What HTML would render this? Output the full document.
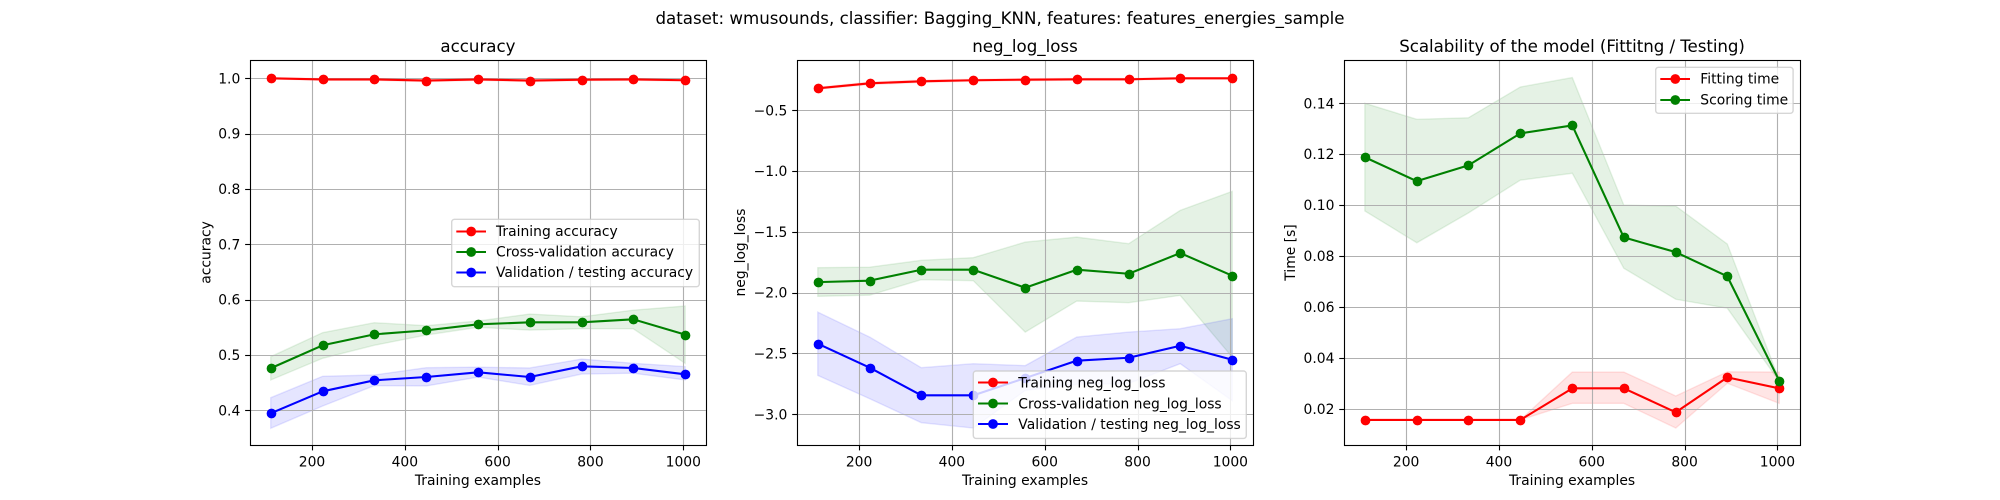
<!DOCTYPE html>
<html lang="en">
<head>
<meta charset="utf-8">
<title>dataset: wmusounds, classifier: Bagging_KNN, features: features_energies_sample</title>
<style>
html,body{margin:0;padding:0;background:#fff;}
body{width:2000px;height:500px;overflow:hidden;}
svg{display:block;font-family:"DejaVu Sans","Liberation Sans",sans-serif;fill:#000;}
.tick{font-size:13.89px;}
.lab{font-size:13.89px;}
.ttl{font-size:16.67px;}
.leg{font-size:13.89px;fill:#000;}
.frame{fill:#fff;fill-opacity:.8;stroke:#ccc;stroke-opacity:.8;stroke-width:1.39;}
</style>
</head>
<body>
<svg xmlns="http://www.w3.org/2000/svg" width="2000" height="500" viewBox="0 0 2000 500">
  <rect x="0" y="0" width="2000" height="500" fill="#fff"/>
  <text class="ttl" x="1000" y="24" text-anchor="middle">dataset: wmusounds, classifier: Bagging_KNN, features: features_energies_sample</text>

  <g id="panel-accuracy">
    <g id="plot-accuracy"></g>
    <text class="ttl" x="477.94" y="52" text-anchor="middle">accuracy</text>
    <text class="lab" x="477.94" y="485" text-anchor="middle">Training examples</text>
    <text class="lab" transform="translate(210.5 252.5) rotate(-90)" text-anchor="middle">accuracy</text>
    <g>
      <rect class="frame" x="451.7" y="219.3" width="247.6" height="67.4" rx="2.8"/>
      <g>
        <line x1="456.3" x2="486" y1="231.5" y2="231.5" stroke="#f00" stroke-width="2.08"/>
        <circle cx="471.2" cy="231.5" r="4.17" fill="#f00" stroke="#f00" stroke-width="1.39"/>
        <text class="leg" x="496" y="236">Training accuracy</text>
      </g>
      <g>
        <line x1="456.3" x2="486" y1="252" y2="252" stroke="#008000" stroke-width="2.08"/>
        <circle cx="471.2" cy="252" r="4.17" fill="#008000" stroke="#008000" stroke-width="1.39"/>
        <text class="leg" x="496" y="256.5">Cross-validation accuracy</text>
      </g>
      <g>
        <line x1="456.3" x2="486" y1="272.5" y2="272.5" stroke="#00f" stroke-width="2.08"/>
        <circle cx="471.2" cy="272.5" r="4.17" fill="#00f" stroke="#00f" stroke-width="1.39"/>
        <text class="leg" x="496" y="277">Validation / testing accuracy</text>
      </g>
    </g>
  </g>

  <g id="panel-logloss">
    <g id="plot-logloss"></g>
    <text class="ttl" x="1025" y="52" text-anchor="middle">neg_log_loss</text>
    <text class="lab" x="1025" y="485" text-anchor="middle">Training examples</text>
    <text class="lab" transform="translate(745 252.5) rotate(-90)" text-anchor="middle">neg_log_loss</text>
    <g>
      <rect class="frame" x="973.3" y="371" width="273" height="67.4" rx="2.8"/>
      <g>
        <line x1="978" x2="1008" y1="382.5" y2="382.5" stroke="#f00" stroke-width="2.08"/>
        <circle cx="993" cy="382.5" r="4.17" fill="#f00" stroke="#f00" stroke-width="1.39"/>
        <text class="leg" x="1018.3" y="387.5">Training neg_log_loss</text>
      </g>
      <g>
        <line x1="978" x2="1008" y1="403.5" y2="403.5" stroke="#008000" stroke-width="2.08"/>
        <circle cx="993" cy="403.5" r="4.17" fill="#008000" stroke="#008000" stroke-width="1.39"/>
        <text class="leg" x="1018.3" y="408.5">Cross-validation neg_log_loss</text>
      </g>
      <g>
        <line x1="978" x2="1008" y1="424" y2="424" stroke="#00f" stroke-width="2.08"/>
        <circle cx="993" cy="424" r="4.17" fill="#00f" stroke="#00f" stroke-width="1.39"/>
        <text class="leg" x="1018.3" y="429">Validation / testing neg_log_loss</text>
      </g>
    </g>
  </g>

  <g id="panel-time">
    <g id="plot-time"></g>
    <text class="ttl" x="1572.06" y="52" text-anchor="middle" textLength="345.7" lengthAdjust="spacing">Scalability of the model (Fittitng / Testing)</text>
    <text class="lab" x="1572.06" y="485" text-anchor="middle">Training examples</text>
    <text class="lab" transform="translate(1295 252.5) rotate(-90)" text-anchor="middle">Time [s]</text>
    <g>
      <rect class="frame" x="1655.7" y="67.3" width="137.4" height="46" rx="2.8"/>
      <g>
        <line x1="1660.3" x2="1690" y1="79" y2="79" stroke="#f00" stroke-width="2.08"/>
        <circle cx="1675.3" cy="79" r="4.17" fill="#f00" stroke="#f00" stroke-width="1.39"/>
        <text class="leg" x="1700.3" y="83.7">Fitting time</text>
      </g>
      <g>
        <line x1="1660.3" x2="1690" y1="100" y2="100" stroke="#008000" stroke-width="2.08"/>
        <circle cx="1675.3" cy="100" r="4.17" fill="#008000" stroke="#008000" stroke-width="1.39"/>
        <text class="leg" x="1700.3" y="104.7">Scoring time</text>
      </g>
    </g>
  </g>
</svg>

<script>
// ---- Shared categories and tick values ----
const trainingExamples = [111, 223, 334, 446, 558, 669, 781, 892, 1004];
const xTickValues = [200, 400, 600, 800, 1000];
const xTickLabels = ['200', '400', '600', '800', '1000'];

// ---- Accuracy panel ----
const accuracyTickValues = [0.4, 0.5, 0.6, 0.7, 0.8, 0.9, 1.0];
const accuracyTickLabels = ['0.4', '0.5', '0.6', '0.7', '0.8', '0.9', '1.0'];
const accuracyTrainMean = [1.0, 0.998, 0.998, 0.996, 0.998, 0.996, 0.9975, 0.998, 0.9965];
const accuracyTrainUpper = [1.001, 0.9995, 0.9995, 0.998, 0.9995, 0.998, 0.999, 0.9995, 0.998];
const accuracyTrainLower = [0.999, 0.9965, 0.9965, 0.994, 0.9965, 0.994, 0.996, 0.9965, 0.995];
const accuracyCvMean = [0.476, 0.5175, 0.5373, 0.5445, 0.5554, 0.559, 0.559, 0.5645, 0.5367];
const accuracyCvUpper = [0.4969, 0.5403, 0.5583, 0.553, 0.5614, 0.574, 0.569, 0.581, 0.5885];
const accuracyCvLower = [0.4548, 0.494, 0.5175, 0.536, 0.55, 0.545, 0.5475, 0.5475, 0.485];
const accuracyTestMean = [0.3946, 0.4343, 0.4542, 0.4602, 0.4687, 0.4602, 0.4795, 0.4765, 0.465];
const accuracyTestUpper = [0.4228, 0.4615, 0.4638, 0.477, 0.478, 0.4765, 0.4927, 0.485, 0.479];
const accuracyTestLower = [0.3675, 0.4078, 0.4445, 0.444, 0.46, 0.445, 0.4656, 0.467, 0.4548];

// ---- Negative log loss panel ----
const logLossTickValues = [-3.0, -2.5, -2.0, -1.5, -1.0, -0.5];
const logLossTickLabels = ['\u22123.0', '\u22122.5', '\u22122.0', '\u22121.5', '\u22121.0', '\u22120.5'];
const logLossTrainMean = [-0.319, -0.278, -0.2615, -0.253, -0.248, -0.245, -0.245, -0.237, -0.237];
const logLossTrainUpper = [-0.312, -0.268, -0.252, -0.245, -0.24, -0.238, -0.238, -0.232, -0.232];
const logLossTrainLower = [-0.326, -0.288, -0.271, -0.261, -0.256, -0.252, -0.252, -0.242, -0.242];
const logLossCvMean = [-1.913, -1.901, -1.811, -1.811, -1.959, -1.811, -1.844, -1.674, -1.86];
const logLossCvUpper = [-1.794, -1.79, -1.734, -1.712, -1.584, -1.543, -1.597, -1.323, -1.167];
const logLossCvLower = [-2.03, -2.02, -1.893, -1.901, -2.324, -2.069, -2.082, -2.022, -2.53];
const logLossTestMean = [-2.419, -2.617, -2.844, -2.844, -2.702, -2.559, -2.535, -2.436, -2.551];
const logLossTestUpper = [-2.16, -2.365, -2.617, -2.584, -2.6, -2.365, -2.324, -2.296, -2.214];
const logLossTestLower = [-2.68, -2.872, -3.069, -3.113, -2.804, -2.753, -2.746, -2.584, -2.888];

// ---- Scalability panel ----
const timeTickValues = [0.02, 0.04, 0.06, 0.08, 0.10, 0.12, 0.14];
const timeTickLabels = ['0.02', '0.04', '0.06', '0.08', '0.10', '0.12', '0.14'];
const fitTimeMean = [0.0156, 0.0156, 0.0156, 0.0156, 0.028, 0.028, 0.0186, 0.0323, 0.028];
const fitTimeUpper = [0.0156, 0.0156, 0.0156, 0.0156, 0.0344, 0.0344, 0.025, 0.0345, 0.0344];
const fitTimeLower = [0.0156, 0.0156, 0.0156, 0.0156, 0.0221, 0.0221, 0.0124, 0.03, 0.0221];
const scoreTimeMean = [0.1188, 0.1094, 0.1156, 0.1282, 0.1313, 0.0873, 0.0815, 0.072, 0.031];
const scoreTimeUpper = [0.14, 0.1337, 0.1343, 0.1464, 0.1501, 0.1, 0.0996, 0.0847, 0.0313];
const scoreTimeLower = [0.0977, 0.0852, 0.0969, 0.1098, 0.1125, 0.0752, 0.063, 0.0595, 0.0307];

const SVG_NS = 'http://www.w3.org/2000/svg';
const RED = '#ff0000';
const GREEN = '#008000';
const BLUE = '#0000ff';

function make(tag, attrs, parent) {
  const el = document.createElementNS(SVG_NS, tag);
  for (const k in attrs) el.setAttribute(k, attrs[k]);
  parent.appendChild(el);
  return el;
}
function snap(v) {
  return Math.floor(v + 0.5) + 0.5;
}
function linearScale(d0, d1, r0, r1) {
  return function (v) { return r0 + (v - d0) / (d1 - d0) * (r1 - r0); };
}

function drawPanel(cfg) {
  const root = document.getElementById(cfg.id);
  const top = 60, bottom = 445;
  const x = linearScale(66.35, 1048.65, cfg.left, cfg.left + 455.88);
  const y = linearScale(cfg.yMin, cfg.yMax, bottom, top);
  const right = cfg.left + 455.88;

  // confidence bands
  cfg.series.forEach(function (s) {
    const upper = s.upper.map(function (v, i) { return x(trainingExamples[i]) + ',' + y(v); });
    const lower = s.lower.map(function (v, i) { return x(trainingExamples[i]) + ',' + y(v); }).reverse();
    const band = make('polygon', { points: upper.concat(lower).join(' '), fill: s.color, 'fill-opacity': 0.1, stroke: s.color, 'stroke-opacity': 0.1, 'stroke-width': 1.39 }, root);
    
    
  });

  // grid
  xTickValues.forEach(function (v) {
    const px = snap(x(v));
    const line = make('line', { x1: px, x2: px, y1: top, y2: bottom, stroke: '#b0b0b0', 'stroke-width': 1.11 }, root);
    
    
  });
  cfg.yTicks.forEach(function (v) {
    const py = snap(y(v));
    const line = make('line', { x1: cfg.left, x2: right, y1: py, y2: py, stroke: '#b0b0b0', 'stroke-width': 1.11 }, root);
    
    
  });

  // series lines and points
  cfg.series.forEach(function (s) {
    const pts = s.mean.map(function (v, i) { return x(trainingExamples[i]) + ',' + y(v); }).join(' ');
    const line = make('polyline', { points: pts, fill: 'none', stroke: s.color, 'stroke-width': 2.08, 'stroke-linejoin': 'round' }, root);
    
    
    s.mean.forEach(function (v, i) {
      const dot = make('circle', { cx: snap(x(trainingExamples[i])), cy: snap(y(v)), r: 4.17, fill: s.color, stroke: s.color, 'stroke-width': 1.39 }, root);
      
      
    });
  });

  // frame
  const frame = make('rect', { x: snap(cfg.left), y: snap(top), width: snap(right) - snap(cfg.left), height: snap(bottom) - snap(top), fill: 'none', stroke: '#000', 'stroke-width': 1.11 }, root);
  
  

  // x ticks
  xTickValues.forEach(function (v, i) {
    const px = snap(x(v));
    const tick = make('line', { x1: px, x2: px, y1: bottom, y2: bottom + 5.4, stroke: '#000', 'stroke-width': 1.11 }, root);
    
    
    const label = make('text', { x: x(v), y: 466.5, 'text-anchor': 'middle', class: 'tick' }, root);
    label.textContent = xTickLabels[i];
    
    
  });

  // y ticks
  cfg.yTicks.forEach(function (v, i) {
    const py = snap(y(v));
    const tick = make('line', { x1: cfg.left - 4.86, x2: cfg.left, y1: py, y2: py, stroke: '#000', 'stroke-width': 1.11 }, root);
    
    
    const label = make('text', { x: cfg.left - 9.7, y: y(v) + 5.05, 'text-anchor': 'end', class: 'tick' }, root);
    label.textContent = cfg.yLabels[i];
    
    
  });
}

drawPanel({
  id: 'plot-accuracy', left: 250, yMin: 0.3373, yMax: 1.0331,
  yTicks: accuracyTickValues, yLabels: accuracyTickLabels,
  series: [
    { name: 'training-accuracy', color: RED, mean: accuracyTrainMean, upper: accuracyTrainUpper, lower: accuracyTrainLower },
    { name: 'cross-validation-accuracy', color: GREEN, mean: accuracyCvMean, upper: accuracyCvUpper, lower: accuracyCvLower },
    { name: 'validation-testing-accuracy', color: BLUE, mean: accuracyTestMean, upper: accuracyTestUpper, lower: accuracyTestLower }
  ]
});
drawPanel({
  id: 'plot-logloss', left: 797.06, yMin: -3.2525, yMax: -0.0864,
  yTicks: logLossTickValues, yLabels: logLossTickLabels,
  series: [
    { name: 'training-neg-log-loss', color: RED, mean: logLossTrainMean, upper: logLossTrainUpper, lower: logLossTrainLower },
    { name: 'cross-validation-neg-log-loss', color: GREEN, mean: logLossCvMean, upper: logLossCvUpper, lower: logLossCvLower },
    { name: 'validation-testing-neg-log-loss', color: BLUE, mean: logLossTestMean, upper: logLossTestUpper, lower: logLossTestLower }
  ]
});
drawPanel({
  id: 'plot-time', left: 1344.12, yMin: 0.00574, yMax: 0.15701,
  yTicks: timeTickValues, yLabels: timeTickLabels,
  series: [
    { name: 'fitting-time', color: RED, mean: fitTimeMean, upper: fitTimeUpper, lower: fitTimeLower },
    { name: 'scoring-time', color: GREEN, mean: scoreTimeMean, upper: scoreTimeUpper, lower: scoreTimeLower }
  ]
});
</script>
</body>
</html>
